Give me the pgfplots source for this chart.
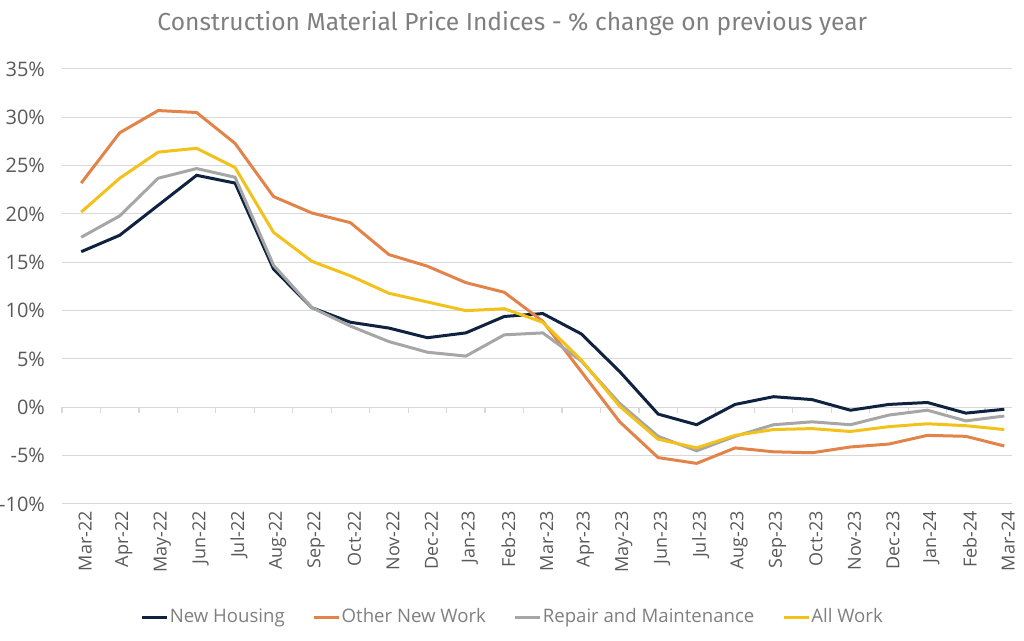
\documentclass[border=0pt]{standalone}
\usepackage{pgfplots}
\pgfplotsset{compat=1.18}
\usepackage{fontspec}
\setmainfont{Fira Sans}
\newfontfamily\tickfont{Open Sans}
\definecolor{cNavy}{HTML}{0F2340}
\definecolor{cOrange}{HTML}{E2844A}
\definecolor{cGray}{HTML}{A6A6A6}
\definecolor{cYellow}{HTML}{F2C21B}
\definecolor{cText}{HTML}{595959}
\definecolor{cTitle}{HTML}{7F7F7F}
\definecolor{cGrid}{HTML}{D9D9D9}
\begin{document}
\begin{tikzpicture}
\begin{axis}[
  scale only axis,
  width=475pt, height=217.5pt,
  xmin=-0.5, xmax=24.2,
  ymin=-10, ymax=35,
  ytick={-10,-5,0,5,10,15,20,25,30,35},
  xtick={0,...,24},
  xticklabels={Mar-22,Apr-22,May-22,Jun-22,Jul-22,Aug-22,Sep-22,Oct-22,Nov-22,Dec-22,Jan-23,Feb-23,Mar-23,Apr-23,May-23,Jun-23,Jul-23,Aug-23,Sep-23,Oct-23,Nov-23,Dec-23,Jan-24,Feb-24,Mar-24},
  yticklabel={\pgfmathprintnumber{\tick}\%},
  /pgf/number format/assume math mode=true,
  major tick length=0pt,
  axis line style={draw=none},
  ymajorgrids,
  grid style={cGrid, line width=0.5pt},
  yticklabel style={font=\tickfont\fontsize{10}{12}\selectfont, text=cText, xshift=-5pt},
  xticklabel style={font=\tickfont\fontsize{9}{11}\selectfont, text=cText, rotate=90, anchor=east, yshift=-2pt},
  legend columns=4,
  legend style={draw=none, fill=none, at={(0.474,-0.26)}, anchor=center,
    font=\tickfont\fontsize{9.3}{11}\selectfont, text=cTitle,
    nodes={inner xsep=0.5pt},
    /tikz/every even column/.append style={column sep=13.5pt}},
  legend cell align=left,
  legend image code/.code={\draw[#1, line width=1.5pt] (0pt,0pt) -- (12.5pt,0pt);},
  clip=false,
]
\draw[cGrid, line width=0.5pt] (axis cs:-0.5,0) -- (axis cs:24.2,0);
\pgfplotsinvokeforeach{-0.5,0.5,...,23.5}{
  \draw[cGrid, line width=0.6pt] (axis cs:#1,0) -- ([yshift=-3pt]axis cs:#1,0);
}
\addplot[cNavy, line width=1.5pt] coordinates {
(0,16.1) (1,17.8) (2,20.9) (3,24.0) (4,23.2) (5,14.3) (6,10.3) (7,8.8) (8,8.2) (9,7.2) (10,7.7) (11,9.4) (12,9.7) (13,7.6) (14,3.7) (15,-0.7) (16,-1.8) (17,0.3) (18,1.1) (19,0.8) (20,-0.3) (21,0.3) (22,0.5) (23,-0.6) (24,-0.2)};
\addlegendentry{New Housing}
\addplot[cOrange, line width=1.5pt] coordinates {
(0,23.2) (1,28.4) (2,30.7) (3,30.5) (4,27.3) (5,21.8) (6,20.1) (7,19.1) (8,15.8) (9,14.6) (10,12.9) (11,11.9) (12,8.9) (13,3.7) (14,-1.5) (15,-5.2) (16,-5.8) (17,-4.2) (18,-4.6) (19,-4.7) (20,-4.1) (21,-3.8) (22,-2.9) (23,-3.0) (24,-4.0)};
\addlegendentry{Other New Work}
\addplot[cGray, line width=1.5pt] coordinates {
(0,17.6) (1,19.8) (2,23.7) (3,24.7) (4,23.8) (5,14.7) (6,10.3) (7,8.4) (8,6.8) (9,5.7) (10,5.3) (11,7.5) (12,7.7) (13,4.8) (14,0.4) (15,-3.0) (16,-4.5) (17,-3.0) (18,-1.8) (19,-1.5) (20,-1.8) (21,-0.8) (22,-0.3) (23,-1.4) (24,-0.9)};
\addlegendentry{Repair and Maintenance}
\addplot[cYellow, line width=1.5pt] coordinates {
(0,20.2) (1,23.7) (2,26.4) (3,26.8) (4,24.8) (5,18.1) (6,15.1) (7,13.6) (8,11.8) (9,10.9) (10,10.0) (11,10.2) (12,8.8) (13,4.9) (14,0.1) (15,-3.3) (16,-4.2) (17,-2.9) (18,-2.3) (19,-2.2) (20,-2.5) (21,-2.0) (22,-1.7) (23,-1.9) (24,-2.3)};
\addlegendentry{All Work}
\node[font=\fontsize{12.3}{14}\selectfont, text=cTitle] at (axis description cs:0.474,1.105) {Construction Material Price Indices - \% change on previous year};
\end{axis}
\pgfresetboundingbox
\path[use as bounding box] ([xshift=-31pt,yshift=-68.5pt]current axis.south west) rectangle ([xshift=6pt,yshift=34.5pt]current axis.north east);
\end{tikzpicture}
\end{document}
